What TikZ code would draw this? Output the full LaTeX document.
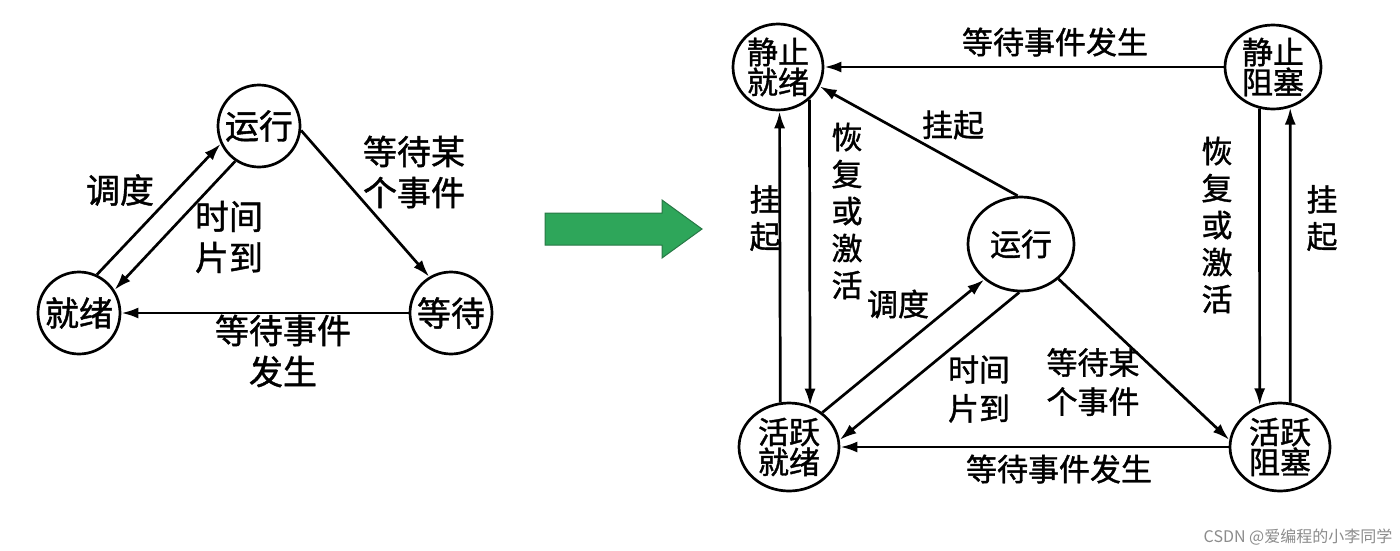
\documentclass[tikz,border=0pt]{standalone}
\usepackage{fontspec}
\newfontfamily\cjk[FakeBold=1.2]{Noto Sans CJK SC}
\newfontfamily\cjkwm{Noto Sans CJK SC}
\usetikzlibrary{arrows.meta,shapes.geometric}
\definecolor{grn}{RGB}{46,166,90}
\definecolor{grnd}{RGB}{40,120,70}
\begin{document}
\begin{tikzpicture}[x=1pt,y=-1pt,
  st/.style={draw, line width=2.7pt, circle, minimum size=82pt, inner sep=0pt, font=\cjk\fontsize{34}{36}\selectfont},
  el/.style={draw, line width=2.7pt, ellipse, inner sep=-6pt, align=center, font=\cjk\fontsize{31}{30}\selectfont},
  arr/.style={-{Latex[length=17pt,width=11pt]}, line width=2.7pt},
  lab/.style={font=\cjk\fontsize{34}{41}\selectfont, align=center, inner sep=0pt},
  rlab/.style={font=\cjk\fontsize{31}{39}\selectfont, align=center, inner sep=0pt},
  vlab/.style={font=\cjk\fontsize{31}{37}\selectfont, align=center, inner sep=0pt},
]
\fill[white] (0,0) rectangle (1400,550);
\useasboundingbox (0,0) rectangle (1400,550);

% left diagram
\node[st] (L1) at (259,126) {运行};
\node[st] (L2) at (79,313) {就绪};
\node[st] (L3) at (451,313) {等待};
\draw[arr] (L2.65) -- (L1.205);
\draw[arr] (L1.236) -- (L2.33);
\draw[arr] (L1.354) -- (L3.121);
\draw[arr] (L3.west) -- (L2.east);
\node[lab] (la1) at (120,190) {调度};
\node[lab] (la2) at (229,237) {时间\\片到};
\node[lab] (la3) at (414,172) {等待某\\个事件};
\node[lab] (la4) at (283,351) {等待事件\\发生};

% green arrow
\draw[grnd, line width=1pt, fill=grn] (545,213) -- (662,213) -- (662,200) -- (702,229) -- (662,258) -- (662,245) -- (545,245) -- cycle;

% right diagram
\node[el, minimum width=90pt, minimum height=86pt] (S1) at (778,67) {静止\\就绪};
\node[el, minimum width=96pt, minimum height=84pt] (S2) at (1273,67) {静止\\阻塞};
\node[el, minimum width=100pt, minimum height=88pt] (AR) at (789,447) {活跃\\就绪};
\node[el, minimum width=100pt, minimum height=88pt] (AB) at (1280,447) {活跃\\阻塞};
\node[el, minimum width=106pt, minimum height=94pt] (R) at (1021,244) {运行};

\draw[arr] (S2.west) -- (S1.east);
\draw[arr] (R.94) -- (S1.335);
\draw[arr] (AR.101.7) -- (S1.272.7);
\draw[arr] (S1.314.8) -- (AR.63.6);
\draw[arr] (S2.252.2) -- (AB.116.4);
\draw[arr] (AB.77) -- (S2.293.4);
\draw[arr] (AR.46) -- (R.224);
\draw[arr] (R.268) -- (AR.8);
\draw[arr] (R.317) -- (AB.172);
\draw[arr] (AB.west) -- (AR.east);

\node[rlab] (r1) at (1055,42) {等待事件发生};
\node[rlab] (r2) at (953,125) {挂起};
\node[vlab] (r3) at (765,218) {挂\\起};
\node[vlab] (r4) at (847,211) {恢\\复\\或\\激\\活};
\node[vlab] (r5) at (1217,225) {恢\\复\\或\\激\\活};
\node[vlab] (r6) at (1322,218) {挂\\起};
\node[rlab] (r7) at (898,304) {调度};
\node[rlab] (r8) at (979,389) {时间\\片到};
\node[rlab] (r9) at (1093,382) {等待某\\个事件};
\node[rlab] (r10) at (1059,469) {等待事件发生};

\node[font=\cjkwm\fontsize{16}{18}\selectfont, text=black!45, inner sep=0pt] (wm) at (1298,537) {CSDN @爱编程的小李同学};
\end{tikzpicture}
\end{document}
